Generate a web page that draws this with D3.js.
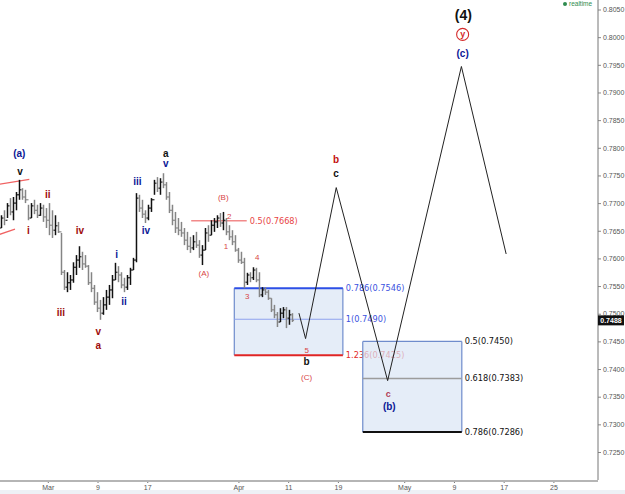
<!DOCTYPE html>
<html>
<head>
<meta charset="utf-8">
<script src="https://d3js.org/d3.v7.min.js"></script>
<style>
  body { margin: 0; background: #fff; }
  #chart svg { display: block; }
</style>
</head>
<body>
<div id="chart"></div>
<script>
// price bars (roughly 3 bars per trading day)
const barHigh = [
  .7678,.7687,.7700,.7709,.7711,.7720,.7742,.7727,.7724,.7697,
  .7700,.7706,.7697,.7700,.7697,.7691,.7700,.7687,.7678,.7666,
  .7646,.7579,.7575,.7570,.7593,.7606,.7622,.7612,.7606,.7588,
  .7575,.7552,.7539,.7525,.7530,.7543,.7552,.7570,.7592,.7586,
  .7575,.7565,.7570,.7583,.7601,.7718,.7715,.7706,.7687,.7697,
  .7709,.7742,.7747,.7745,.7754,.7738,.7720,.7697,.7684,.7673,
  .7666,.7655,.7648,.7639,.7642,.7648,.7633,.7624,.7655,.7660,
  .7669,.7673,.7678,.7682,.7684,.7673,.7660,.7651,.7642,.7619,
  .7612,.7601,.7574,.7575,.7584,.7583,.7575,.7548,.7548,.7543,
  .7528,.7516,.7503,.7510,.7512,.7512,.7507,.7501];
const barLow = [
  .7655,.7660,.7673,.7678,.7669,.7687,.7706,.7706,.7700,.7669,
  .7673,.7680,.7673,.7677,.7666,.7655,.7642,.7637,.7642,.7646,
  .7570,.7543,.7539,.7543,.7556,.7570,.7583,.7579,.7583,.7552,
  .7539,.7516,.7503,.7489,.7498,.7507,.7516,.7528,.7561,.7557,
  .7546,.7539,.7543,.7552,.7579,.7593,.7684,.7673,.7664,.7669,
  .7684,.7715,.7720,.7715,.7727,.7706,.7682,.7660,.7646,.7642,
  .7639,.7624,.7615,.7610,.7615,.7619,.7601,.7588,.7615,.7630,
  .7642,.7648,.7655,.7657,.7651,.7642,.7633,.7624,.7612,.7592,
  .7590,.7546,.7552,.7557,.7561,.7557,.7530,.7530,.7534,.7525,
  .7503,.7492,.7476,.7485,.7492,.7474,.7480,.7485];
const barClose = [
  .7673,.7669,.7695,.7684,.7700,.7715,.7724,.7711,.7706,.7673,
  .7695,.7687,.7678,.7691,.7675,.7669,.7660,.7651,.7659,.7648,
  .7575,.7548,.7556,.7561,.7584,.7597,.7603,.7590,.7586,.7556,
  .7546,.7521,.7510,.7501,.7516,.7530,.7543,.7561,.7575,.7570,
  .7552,.7548,.7565,.7579,.7597,.7709,.7691,.7680,.7673,.7691,
  .7706,.7736,.7727,.7738,.7733,.7711,.7687,.7669,.7655,.7651,
  .7646,.7633,.7622,.7619,.7630,.7624,.7606,.7615,.7646,.7642,
  .7660,.7666,.7673,.7664,.7669,.7648,.7639,.7630,.7615,.7597,
  .7593,.7557,.7570,.7565,.7579,.7561,.7534,.7543,.7539,.7528,
  .7507,.7498,.7485,.7501,.7507,.7492,.7498,.7488];
const firstBarDay = -5.586;   // trading days counted from Mar 1
const barDays = 0.3619;
const lastPrice = 0.7488;

// x axis: trading day index (Mar 1 = 0) and labels
const tickDays = [0, 6, 12, 23, 29, 35, 43, 49, 55, 61];
const tickLabels = ['Mar', '9', '17', 'Apr', '11', '19', 'May', '9', '17', '25'];
// price axis ticks
const priceTicks = [0.7250, 0.7300, 0.7350, 0.7400, 0.7450, 0.7500, 0.7550, 0.7600,
  0.7650, 0.7700, 0.7750, 0.7800, 0.7850, 0.7900, 0.7950, 0.8000, 0.8050];

// projected zigzag
const projDays = [30.3, 31.1, 34.8, 41.0, 49.9, 55.3];
const projPrices = [0.7501, 0.7455, 0.7728, 0.7379, 0.7947, 0.7608];

// fib boxes
const fib1Days = [22.5, 35.6];
const fib1Ratios = ['0.786', '1', '1.236'];
const fib1Levels = [0.7546, 0.7490, 0.7425];
const fib2Days = [38.0, 49.95];
const fib2Ratios = ['0.5', '0.618', '0.786'];
const fib2Levels = [0.7450, 0.7383, 0.7286];
const retraceDays = [17.3, 24.0];
const retraceLevel = 0.7668;

// red channel at the left
const chanDays = [[-5.9, -2.23], [-5.9, -3.96]];
const chanPrices = [[0.7734, 0.7743], [0.7643, 0.7653]];

// wave labels
const waveText = ['(a)', 'v', 'i', 'ii', 'iv', 'iii', 'v', 'a', 'i', 'ii', 'iii', 'iv', 'a', 'v',
  '(B)', '2', '1', '(A)', '4', '3', '5', 'b', '(C)', 'b', 'c', 'c', '(b)', '(4)', '(c)'];
const waveDay = [-3.44, -3.35, -2.35, -0.01, 3.88, 1.59, 6.09, 6.09, 8.31, 9.19, 10.80, 11.85, 14.22, 14.22,
  21.17, 21.90, 21.50, 18.84, 25.27, 24.07, 31.23, 31.23, 31.23, 34.77, 34.77, 41.08, 41.20, 50.13, 50.05];
const wavePrice = [0.7789, 0.7757, 0.7651, 0.7715, 0.7651, 0.7502, 0.7467, 0.7443, 0.7607, 0.7522, 0.7739, 0.7650, 0.7790, 0.7772,
  0.7710, 0.7677, 0.7622, 0.7574, 0.7602, 0.7531, 0.7434, 0.7413, 0.7386, 0.7779, 0.7754, 0.7356, 0.7332, 0.8040, 0.7971];
const waveKind = ['blue', 'black', 'red', 'red', 'red', 'red', 'red', 'red', 'blue', 'blue', 'blue', 'blue', 'black', 'blue',
  'minor', 'minor', 'minor', 'minor', 'minor', 'minor', 'minor', 'black', 'minor', 'brightred', 'black', 'mauve', 'blue', 'big', 'blue'];
const circledDay = 50.05, circledPrice = 0.8005;

const kindStyle = {
  red: { fill: '#9e0b0b', size: 10, weight: 'bold' },
  brightred: { fill: '#c41010', size: 10, weight: 'bold' },
  blue: { fill: '#0b1796', size: 10, weight: 'bold' },
  black: { fill: '#111', size: 10, weight: 'bold' },
  minor: { fill: '#d84545', size: 8, weight: 'normal' },
  mauve: { fill: '#b03e55', size: 9, weight: 'bold' },
  big: { fill: '#111', size: 14, weight: 'bold' }
};

const width = 625, height = 494;
const plotRight = 598, plotBottom = 481;
const sans = '"Liberation Sans", Arial, sans-serif';
const verdana = '"DejaVu Sans", Verdana, sans-serif';

const svg = d3.select('#chart').append('svg')
  .attr('width', width)
  .attr('height', height);

svg.append('rect').attr('width', width).attr('height', height).attr('fill', '#fff');
// footer strip
svg.append('rect').attr('x', 0).attr('y', 490).attr('width', width).attr('height', 4).attr('fill', '#eef1f6');

const x = d3.scaleLinear().domain([0, 61]).range([47.8, 553.4]);
const y = d3.scaleLinear().domain([0.7250, 0.8050]).range([452, 9.5]);

svg.append('clipPath').attr('id', 'plotclip')
  .append('rect').attr('x', 0).attr('y', 0).attr('width', plotRight).attr('height', plotBottom);
const plot = svg.append('g').attr('clip-path', 'url(#plotclip)');

// draws a fib box with its three levels and labels
function fibBox(days, levels, ratios, opts) {
  const g = plot.append('g');
  const x0 = x(days[0]), x1 = x(days[1]);
  const yTop = y(levels[0]), yBot = y(levels[2]);
  g.append('rect')
    .attr('x', x0).attr('y', yTop)
    .attr('width', x1 - x0).attr('height', yBot - yTop)
    .attr('fill', '#dae6f5').attr('fill-opacity', 0.7)
    .attr('stroke', 'none');
  // sides
  [x0, x1].forEach(xx => g.append('line')
    .attr('x1', xx).attr('x2', xx).attr('y1', yTop).attr('y2', yBot)
    .attr('stroke', '#6f8ccc').attr('stroke-width', 1.2));
  levels.forEach((lv, i) => {
    g.append('line')
      .attr('x1', x0).attr('x2', x1).attr('y1', y(lv)).attr('y2', y(lv))
      .attr('stroke', opts.lineColors[i]).attr('stroke-width', opts.lineWidths[i]);
    g.append('text')
      .attr('x', x1 + 3).attr('y', y(lv)).attr('dy', '0.35em')
      .attr('font-family', verdana).attr('font-size', 8.2)
      .attr('fill', opts.textColors[i])
      .text(`${ratios[i]}(${lv.toFixed(4)})`);
  });
}

fibBox(fib1Days, fib1Levels, fib1Ratios, {
  lineColors: ['#2d4fe6', '#8ea2ee', '#e02525'],
  lineWidths: [2, 1, 2],
  textColors: ['#3a52e0', '#3a52e0', '#e22a2a']
});

// retracement line 0.5
plot.append('line')
  .attr('x1', x(retraceDays[0])).attr('x2', x(retraceDays[1]))
  .attr('y1', y(retraceLevel)).attr('y2', y(retraceLevel))
  .attr('stroke', '#f28a8a').attr('stroke-width', 1.6);
plot.append('text')
  .attr('x', x(retraceDays[1]) + 3).attr('y', y(retraceLevel)).attr('dy', '0.35em')
  .attr('font-family', verdana).attr('font-size', 8.2).attr('fill', '#e84545')
  .text(`0.5(${retraceLevel.toFixed(4)})`);

// channel lines
chanDays.forEach((dd, k) => {
  plot.append('line')
    .attr('x1', x(dd[0])).attr('x2', x(dd[1]))
    .attr('y1', y(chanPrices[k][0])).attr('y2', y(chanPrices[k][1]))
    .attr('stroke', '#f06262').attr('stroke-width', 1.2);
});

// ---- price bars (OHLC)
const bars = barHigh.map((h, i) => ({
  day: firstBarDay + i * barDays,
  high: h,
  low: barLow[i],
  open: i === 0 ? barLow[0] : barClose[i - 1],
  close: barClose[i]
}));

const barG = plot.append('g');
bars.forEach(b => {
  const bx = x(b.day);
  const col = b.close >= b.open ? '#111' : '#858585';
  barG.append('line').attr('x1', bx).attr('x2', bx)
    .attr('y1', y(b.high)).attr('y2', y(b.low))
    .attr('stroke', col).attr('stroke-width', 1.5);
  barG.append('line').attr('x1', bx - 1.6).attr('x2', bx)
    .attr('y1', y(b.open)).attr('y2', y(b.open))
    .attr('stroke', col).attr('stroke-width', 1.1);
  barG.append('line').attr('x1', bx).attr('x2', bx + 1.6)
    .attr('y1', y(b.close)).attr('y2', y(b.close))
    .attr('stroke', col).attr('stroke-width', 1.1);
});

// ---- fib box 2 drawn over the first labels
fibBox(fib2Days, fib2Levels, fib2Ratios, {
  lineColors: ['#6f8ccc', '#9c9c9c', '#111'],
  lineWidths: [1.2, 1.5, 2],
  textColors: ['#111', '#111', '#111']
});

// projected path
const projLine = d3.line().x(d => x(d[0])).y(d => y(d[1]));
plot.append('path')
  .datum(projDays.map((d, i) => [d, projPrices[i]]))
  .attr('d', projLine)
  .attr('fill', 'none')
  .attr('stroke', '#222')
  .attr('stroke-width', 1);

// wave labels
waveText.forEach((t, i) => {
  const st = kindStyle[waveKind[i]];
  plot.append('text')
    .attr('x', x(waveDay[i])).attr('y', y(wavePrice[i]))
    .attr('dy', '0.35em')
    .attr('text-anchor', 'middle')
    .attr('font-family', sans)
    .attr('font-size', st.size)
    .attr('font-weight', st.weight)
    .attr('fill', st.fill)
    .text(t);
});
// circled y
plot.append('circle')
  .attr('cx', x(circledDay)).attr('cy', y(circledPrice)).attr('r', 6)
  .attr('fill', 'none').attr('stroke', '#d42a2a').attr('stroke-width', 1.1);
plot.append('text')
  .attr('x', x(circledDay)).attr('y', y(circledPrice)).attr('dy', '0.3em')
  .attr('text-anchor', 'middle')
  .attr('font-family', sans).attr('font-size', 9).attr('font-weight', 'bold')
  .attr('fill', '#d42a2a')
  .text('y');

// ---- axes
const xAxis = svg.append('g')
  .attr('transform', `translate(0, ${plotBottom})`)
  .call(d3.axisBottom(x).tickValues(tickDays).tickFormat((d, i) => tickLabels[i]).tickSize(2).tickSizeOuter(0));
xAxis.select('.domain').remove();
xAxis.append('line')
  .attr('x1', 0).attr('x2', plotRight).attr('y1', 0).attr('y2', 0)
  .attr('stroke', '#b5b5b5').attr('stroke-width', 2);
xAxis.selectAll('.tick line').attr('stroke', '#777');
xAxis.selectAll('.tick text')
  .attr('font-family', sans).attr('font-size', 7).attr('fill', '#555').attr('y', 4);

const yAxis = svg.append('g')
  .attr('transform', `translate(${plotRight}, 0)`)
  .call(d3.axisRight(y).tickValues(priceTicks).tickFormat(d3.format('.4f')).tickSize(3).tickSizeOuter(0));
yAxis.select('.domain').remove();
yAxis.append('line')
  .attr('x1', 0).attr('x2', 0).attr('y1', 0).attr('y2', plotBottom - 1)
  .attr('stroke', '#777').attr('stroke-width', 1);
yAxis.selectAll('.tick line').attr('stroke', '#888');
yAxis.selectAll('.tick text')
  .attr('font-family', sans).attr('font-size', 7).attr('fill', '#555').attr('x', 5);

// current price tag
const tagG = svg.append('g').attr('transform', `translate(${plotRight}, ${y(lastPrice)})`);
tagG.append('rect').attr('x', 0).attr('y', -5).attr('width', 26).attr('height', 10).attr('fill', '#111');
tagG.append('text')
  .attr('x', 13).attr('dy', '0.35em').attr('text-anchor', 'middle')
  .attr('font-family', sans).attr('font-size', 7).attr('font-weight', 'bold').attr('fill', '#fff')
  .text(lastPrice.toFixed(4));

// realtime flag
svg.append('circle').attr('cx', 565).attr('cy', 4).attr('r', 2).attr('fill', '#2e8b4e');
svg.append('text')
  .attr('x', 569).attr('y', 4).attr('dy', '0.35em')
  .attr('font-family', sans).attr('font-size', 6.5).attr('fill', '#2e8b4e')
  .text('realtime');
</script>
</body>
</html>
